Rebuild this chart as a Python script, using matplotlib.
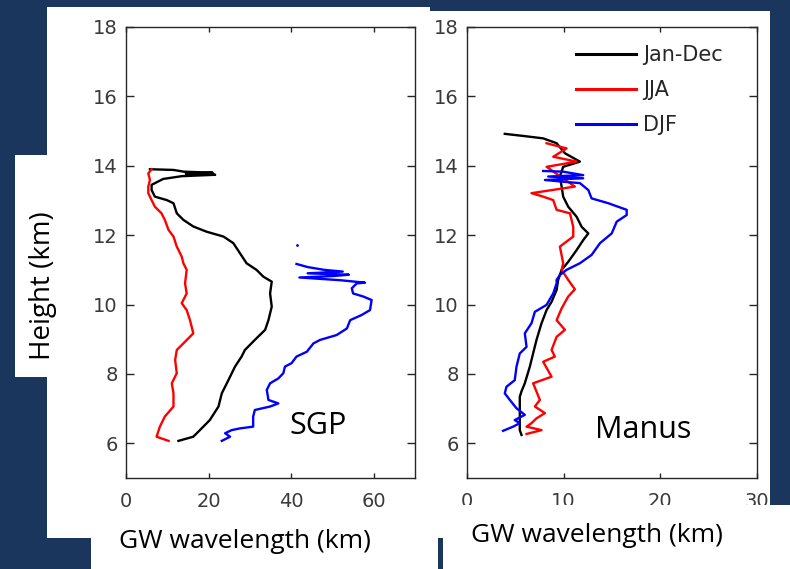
import matplotlib
matplotlib.use("Agg")
import matplotlib.pyplot as plt
from matplotlib.patches import Rectangle

# ---------------- data ----------------
# SGP panel
sgp_all_x = [12.7, 16.3, 17.9, 20.3, 22.4, 23.2, 24.8, 26.4, 28.0, 28.8, 31.2, 33.7, 34.5,
             35.3, 34.9, 35.3, 33.3, 31.6, 29.2, 27.6, 26.0, 23.6, 19.5, 16.3, 13.9, 12.3,
             11.5, 9.9, 7.0, 6.2, 6.2, 9.0, 13.5, 21.6, 14.5, 21.0, 14.0, 11.5, 5.8]
sgp_all_h = [6.07, 6.19, 6.38, 6.67, 7.06, 7.44, 7.82, 8.21, 8.50, 8.69, 8.98, 9.27, 9.55,
             9.94, 10.32, 10.66, 10.80, 11.00, 11.19, 11.48, 11.77, 11.96, 12.10, 12.25, 12.44, 12.63,
             12.92, 13.01, 13.11, 13.30, 13.45, 13.62, 13.70, 13.74, 13.77, 13.80, 13.83, 13.88, 13.90]

sgp_jja_x = [10.3, 7.4, 8.2, 9.4, 11.5, 11.5, 11.1, 12.3, 11.9, 12.3, 13.9, 16.3, 15.5, 14.7,
             13.5, 14.7, 14.3, 14.7, 13.9, 13.5, 12.3, 11.5, 10.3, 9.4, 8.6, 7.0, 6.2, 5.4,
             5.4, 5.8, 5.4, 6.2]
sgp_jja_h = [6.07, 6.19, 6.48, 6.77, 7.06, 7.44, 7.73, 8.02, 8.40, 8.69, 8.88, 9.17, 9.55, 9.84,
             10.04, 10.32, 10.61, 11.00, 11.19, 11.38, 11.67, 11.96, 12.15, 12.44, 12.63, 12.82, 13.01, 13.21,
             13.40, 13.59, 13.78, 13.90]

sgp_djf_x = [23.2, 25.2, 24.0, 25.6, 27.6, 30.8, 30.8, 31.2, 34.9, 36.9, 34.5, 34.1, 34.9,
             36.9, 38.1, 38.5, 40.1, 41.3, 43.8, 45.4, 47.0, 51.0, 53.5, 54.3, 57.1, 59.1,
             59.5, 57.5, 55.0, 54.7, 55.9, 57.9, 52.0, 42.0, 50.0, 54.0, 44.0, 52.5, 48.0,
             44.0, 41.3]
sgp_djf_h = [6.07, 6.19, 6.29, 6.38, 6.43, 6.48, 6.77, 6.96, 7.06, 7.15, 7.25, 7.54, 7.73,
             7.87, 8.02, 8.21, 8.31, 8.50, 8.64, 8.88, 8.98, 9.12, 9.31, 9.55, 9.70, 9.84,
             10.13, 10.23, 10.32, 10.47, 10.61, 10.63, 10.70, 10.78, 10.82, 10.86, 10.90, 10.95, 11.00,
             11.08, 11.17]
sgp_djf_dot_x = [41.3]
sgp_djf_dot_h = [11.72]

# Manus panel
man_all_x = [5.64, 5.46, 5.46, 5.46, 5.46, 5.64, 5.98, 6.50, 6.84, 7.19, 7.71, 8.23, 8.75,
             9.27, 9.43, 9.79, 10.47, 11.34, 12.03, 12.55, 11.86, 11.34, 10.47, 9.95, 9.79,
             9.61, 9.95, 11.68, 10.13, 9.27, 7.88, 5.81, 3.91]
man_all_h = [6.24, 6.38, 6.67, 6.96, 7.34, 7.50, 7.73, 8.21, 8.59, 8.98, 9.46, 9.84, 10.08,
             10.42, 10.71, 11.00, 11.23, 11.57, 11.86, 12.05, 12.24, 12.53, 12.82, 13.11, 13.40,
             13.69, 13.97, 14.12, 14.36, 14.65, 14.79, 14.86, 14.92]

man_jja_x = [6.16, 7.71, 6.16, 6.67, 7.19, 8.06, 7.02, 7.54, 6.84, 8.75, 7.88, 9.09, 8.75,
             9.27, 10.13, 9.27, 9.79, 10.47, 11.16, 10.47, 9.79, 9.95, 9.61, 10.99, 10.99,
             10.65, 9.27, 8.92, 7.88, 6.67, 11.16, 8.23, 11.34, 8.92, 10.3, 8.23]
man_jja_h = [6.27, 6.38, 6.48, 6.58, 6.72, 6.87, 7.06, 7.25, 7.73, 7.92, 8.35, 8.50, 8.69,
             9.07, 9.27, 9.55, 9.89, 10.23, 10.44, 10.71, 11.00, 11.19, 11.67, 11.96, 12.24,
             12.63, 12.73, 13.01, 13.11, 13.21, 13.40, 13.97, 14.12, 14.26, 14.50, 14.65]

man_djf_x = [3.73, 4.77, 5.46, 4.94, 5.98, 5.12, 4.43, 3.91, 4.08, 4.94, 5.12, 5.46, 6.16,
             5.98, 6.67, 7.02, 8.23, 8.92, 9.27, 9.27, 9.61, 10.30, 11.68, 12.89, 13.76, 14.97,
             15.49, 16.52, 16.52, 14.62, 12.89, 12.55, 11.68, 9.95, 8.06, 12.02, 8.40, 12.02,
             9.95, 7.88]
man_djf_h = [6.36, 6.48, 6.58, 6.67, 6.82, 7.01, 7.25, 7.44, 7.63, 7.82, 8.21, 8.59, 8.78,
             9.17, 9.46, 9.79, 9.99, 10.32, 10.61, 10.71, 10.85, 11.00, 11.19, 11.43, 11.77, 12.05,
             12.39, 12.58, 12.73, 12.92, 13.06, 13.30, 13.50, 13.54, 13.59, 13.64, 13.69, 13.73,
             13.83, 13.85]

legend_labels = ["Jan-Dec", "JJA", "DJF"]
colors = ["black", "red", "blue"]
sgp_xticks = [0, 20, 40, 60]
man_xticks = [0, 10, 20, 30]
yticks = [6, 8, 10, 12, 14, 16, 18]

# ---------------- figure ----------------
W, H = 790, 569
NAVY = "#1A365D"
fig = plt.figure(figsize=(W / 100, H / 100), dpi=100)
fig.patch.set_facecolor(NAVY)


def frect(x0, y0, x1, y1, color, z):
    """rectangle in pixel coords (origin top-left)"""
    fig.patches.append(Rectangle((x0 / W, 1 - y1 / H), (x1 - x0) / W, (y1 - y0) / H,
                                 transform=fig.transFigure, facecolor=color,
                                 edgecolor="none", zorder=z))


# white slide panels
frect(47, 7, 430, 538, "white", -2)
frect(430, 11, 770, 505, "white", -2)
frect(91, 505, 790, 569, "white", -2)
frect(15, 155, 47, 377, "white", -2)


def ax_at(x0, y0, x1, y1):
    return fig.add_axes([x0 / W, 1 - y1 / H, (x1 - x0) / W, (y1 - y0) / H])


TICKC = "#3a3a3a"


def style(ax, xlim, xt):
    ax.set_xlim(*xlim)
    ax.set_ylim(5, 18)
    ax.set_xticks(xt)
    ax.set_yticks(yticks)
    for s in ax.spines.values():
        s.set_color("#262626")
        s.set_linewidth(1.0)
    ax.tick_params(axis="both", direction="in", top=True, right=True, colors="#262626",
                   labelcolor=TICKC, labelsize=14, width=1.0)
    ax.tick_params(axis="x", length=3.5, pad=10)
    ax.tick_params(axis="y", length=5.5, pad=6)
    for lab in ax.get_xticklabels() + ax.get_yticklabels():
        lab.set_family("DejaVu Sans")


LW = 1.7
ax1 = ax_at(126, 27, 415, 478)
ax1.plot(sgp_all_x, sgp_all_h, color=colors[0], lw=LW)
ax1.plot(sgp_jja_x, sgp_jja_h, color=colors[1], lw=LW)
ax1.plot(sgp_djf_x, sgp_djf_h, color=colors[2], lw=LW)
ax1.plot(sgp_djf_dot_x, sgp_djf_dot_h, ".", color=colors[2], ms=2)
style(ax1, (0, 70), sgp_xticks)

ax2 = ax_at(467, 27, 757, 478)
l1, = ax2.plot(man_all_x, man_all_h, color=colors[0], lw=LW)
l2, = ax2.plot(man_jja_x, man_jja_h, color=colors[1], lw=LW)
l3, = ax2.plot(man_djf_x, man_djf_h, color=colors[2], lw=LW)
style(ax2, (0, 30), man_xticks)
leg = ax2.legend([l1, l2, l3], legend_labels, loc="upper left",
                 bbox_to_anchor=(576 / W, 1 - 45 / H), bbox_transform=fig.transFigure,
                 frameon=False, fontsize=15, handlelength=2.9, handletextpad=0.3,
                 labelspacing=0.72, borderpad=0, borderaxespad=0)
for t in leg.get_texts():
    t.set_color("#262626")
for h in leg.get_lines():
    h.set_linewidth(2.2)

# clipping overlays (cover parts of the right picture)
frect(443, 505, 770, 569, "white", 1)
frect(770, 0, 790, 505, NAVY, 1)
frect(430, 0, 790, 11, NAVY, 1)
frect(438, 538, 443, 569, NAVY, 1)

# slide text
TF = "Open Sans"
fig.text(245 / W, 1 - 541 / H, "GW wavelength (km)", fontsize=19, family=TF,
         ha="center", va="center", color="black")
fig.text(597 / W, 1 - 535 / H, "GW wavelength (km)", fontsize=19, family=TF,
         ha="center", va="center", color="black")
fig.text(43 / W, 1 - 286 / H, "Height (km)", fontsize=20, family=TF, rotation=90,
         ha="center", va="center", color="black")
fig.text(318 / W, 1 - 426 / H, "SGP", fontsize=22, family=TF,
         ha="center", va="center", color="black")
fig.text(643 / W, 1 - 430 / H, "Manus", fontsize=22, family=TF,
         ha="center", va="center", color="black")

fig.savefig("out.png", dpi=100, facecolor=fig.get_facecolor())
